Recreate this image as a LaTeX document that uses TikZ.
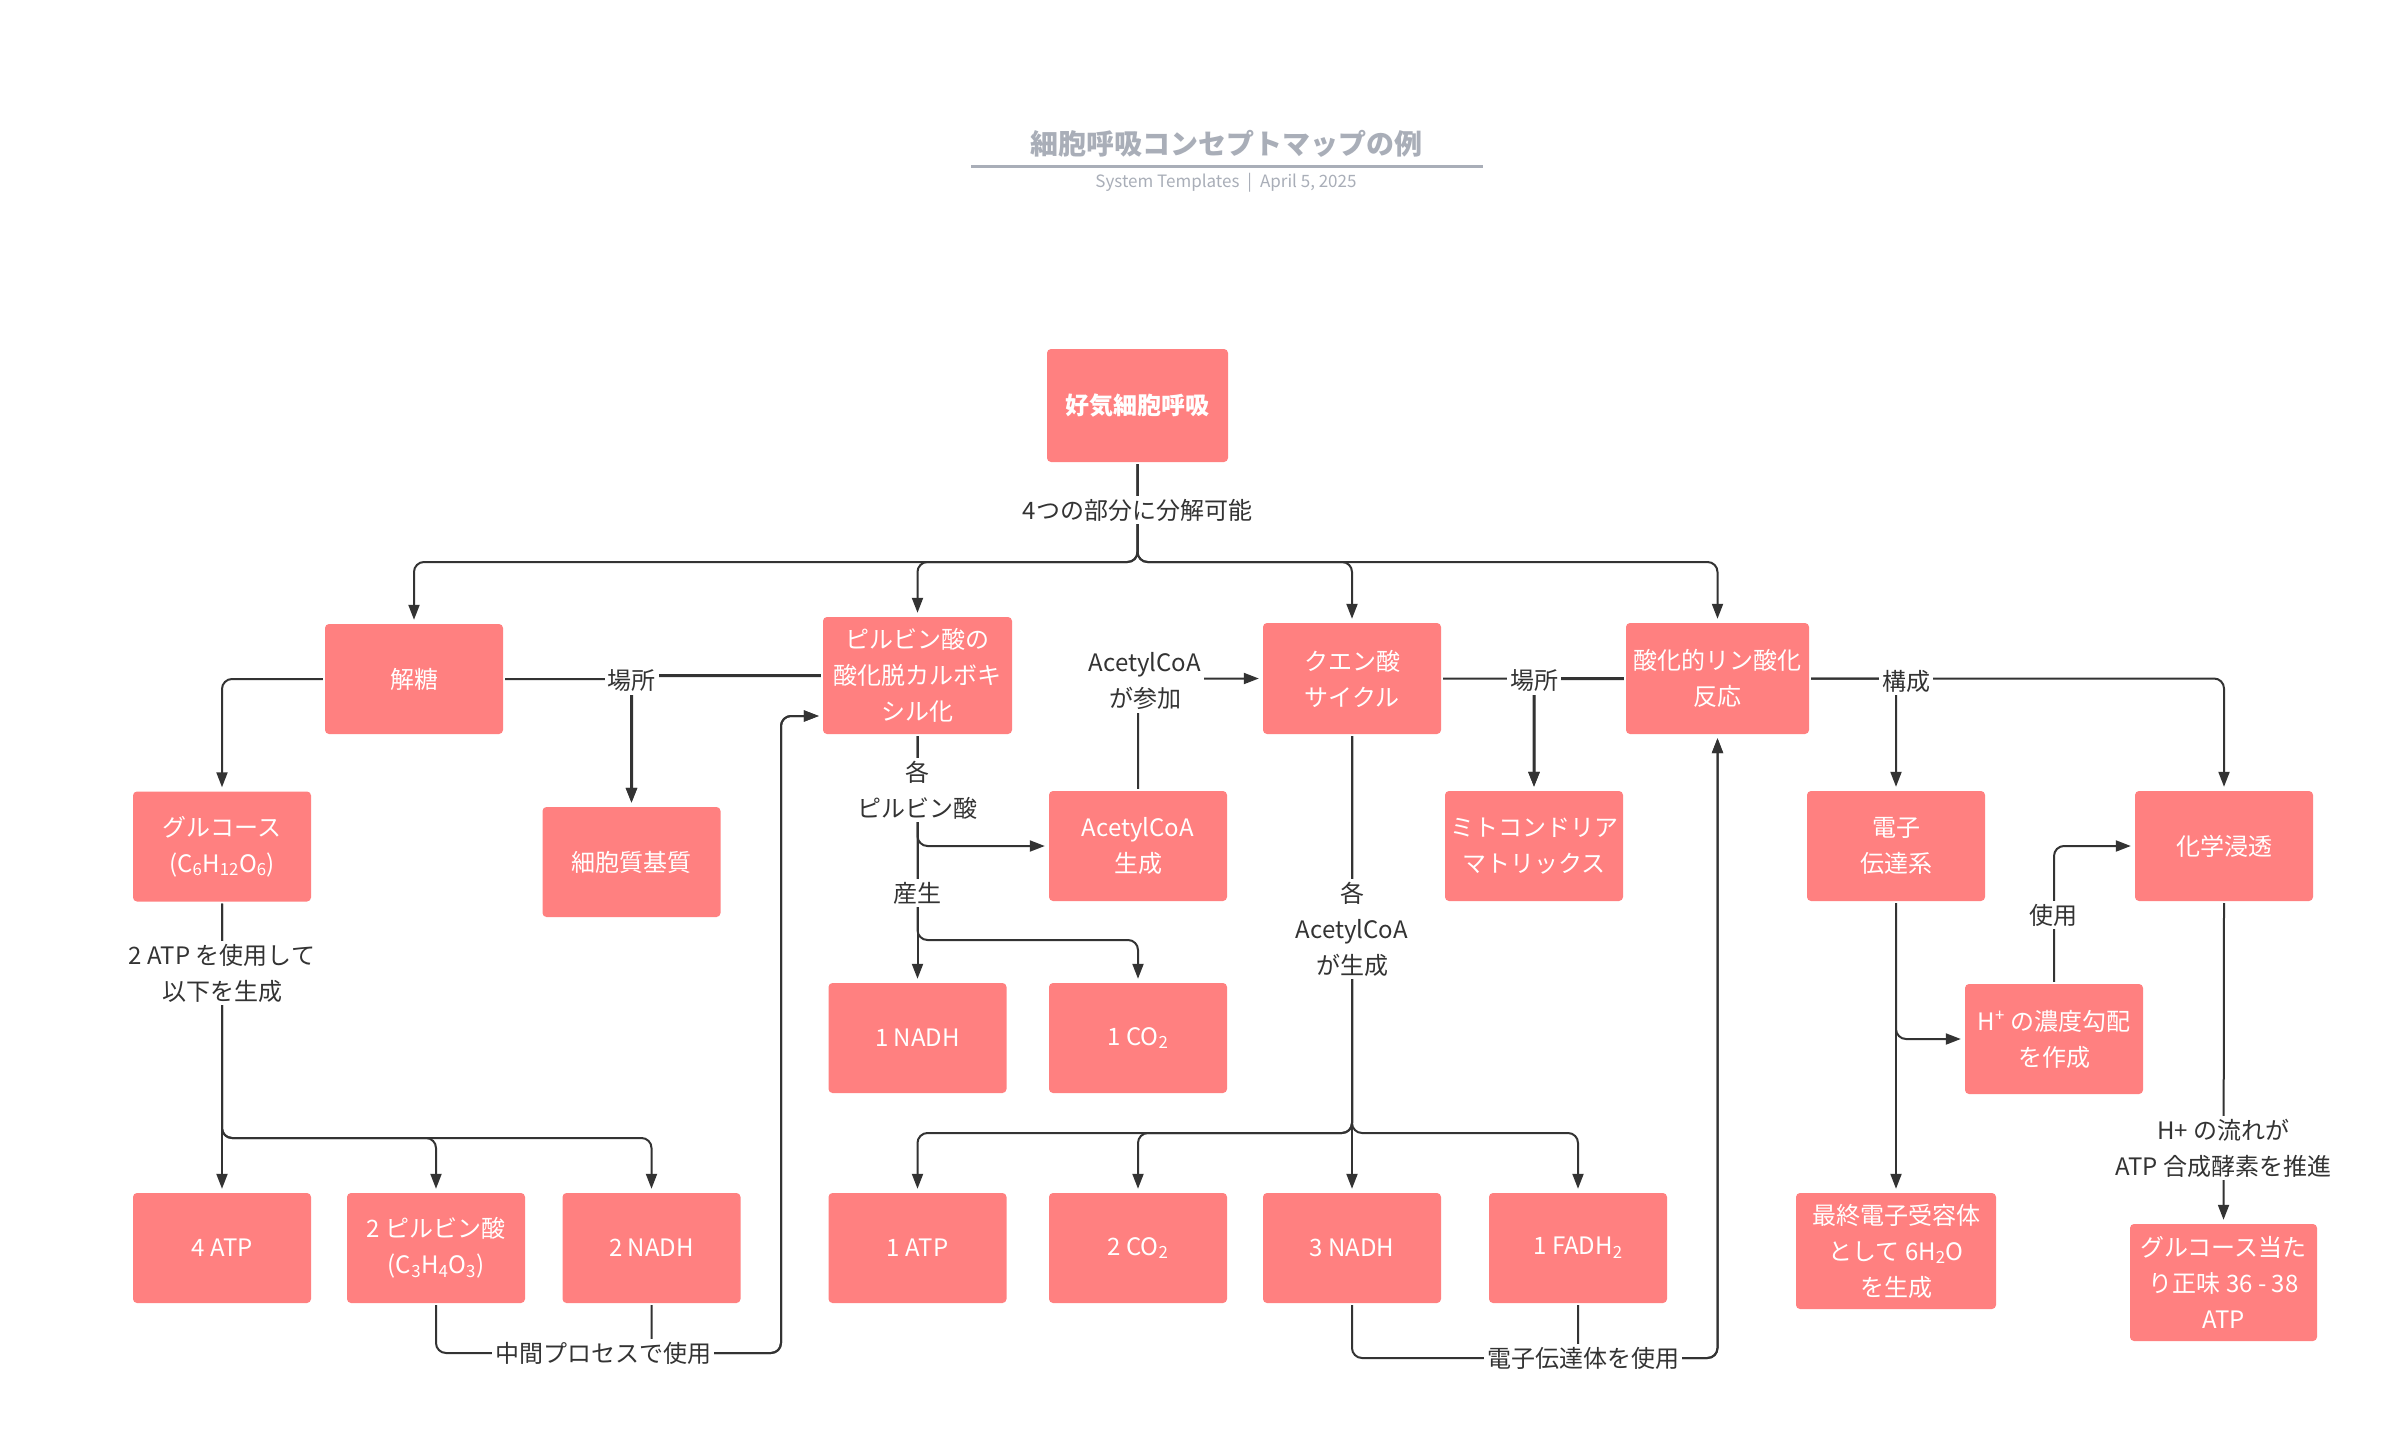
\documentclass[tikz,border=0pt]{standalone}
\usepackage{fontspec}
\setmainfont{Noto Sans CJK JP}
\usetikzlibrary{arrows.meta}
\definecolor{boxc}{HTML}{FF8080}
\definecolor{linec}{HTML}{333333}
\definecolor{titlec}{HTML}{A9AEB8}
\begin{document}
\begin{tikzpicture}[x=1pt,y=-1pt,
  box/.style={fill=boxc, rounded corners=4pt, minimum width=178pt, minimum height=110pt,
    text=white, font=\fontsize{24}{36}\selectfont, align=center, inner sep=0pt},
  conn/.style={draw=linec, line width=2pt, rounded corners=10pt, shorten <=2pt},
  arr/.style={conn, -{Triangle[width=11pt,length=15pt]}, shorten >=4pt},
  thick arr/.style={arr, line width=3pt},
  lbl/.style={fill=white, text=linec, font=\fontsize{24}{36}\selectfont, align=center, inner sep=3pt},
]
\fill[white] (0,0) rectangle (2399,1442);
\useasboundingbox (0,0) rectangle (2399,1442);

% title
\node[font=\fontsize{28}{34}\bfseries\selectfont, text=titlec] (title) at (1226,144) {細胞呼吸コンセプトマップの例};
\draw[titlec, line width=3pt] (971,167) -- (1483,167);
\node[font=\fontsize{17}{20}\selectfont, text=titlec] (sub) at (1226,183) {System Templates\hspace{8pt}|\hspace{8pt}April 5, 2025};

% boxes
\node[box, minimum width=181pt, minimum height=113pt, font=\fontsize{24}{36}\bfseries\selectfont] (root) at (1137.5,405.5) {好気細胞呼吸};
\node[box] (gly) at (414,679) {解糖};
\node[box, minimum width=189pt, minimum height=117pt] (pyr) at (917.5,675.5) {ピルビン酸の\\酸化脱カルボキ\\シル化};
\node[box, minimum height=111pt] (cit) at (1352,678.5) {クエン酸\\サイクル};
\node[box, minimum width=183pt, minimum height=111pt] (ox) at (1717.5,678.5) {酸化的リン酸化\\反応};

\node[box] (glu) at (222,846.5) {グルコース\\(C\textsubscript{6}H\textsubscript{12}O\textsubscript{6})};
\node[box] (cyto) at (631.5,862) {細胞質基質};
\node[box] (acg) at (1138,846) {AcetylCoA\\生成};
\node[box] (mito) at (1534,846) {ミトコンドリア\\マトリックス};
\node[box] (etc) at (1896,846) {電子\\伝達系};
\node[box] (chem) at (2224,846) {化学浸透};

\node[box] (nadh1) at (917.5,1038) {1 NADH};
\node[box] (co21) at (1138,1038) {1 CO\textsubscript{2}};
\node[box] (hgrad) at (2054,1039) {H\textsuperscript{+} の濃度勾配\\を作成};

\node[box] (atp4) at (222,1248) {4 ATP};
\node[box] (pyr2) at (436,1248) {2 ピルビン酸\\(C\textsubscript{3}H\textsubscript{4}O\textsubscript{3})};
\node[box] (nadh2) at (651.5,1248) {2 NADH};
\node[box] (atp1) at (917.5,1248) {1 ATP};
\node[box] (co22) at (1138,1248) {2 CO\textsubscript{2}};
\node[box] (nadh3) at (1352,1248) {3 NADH};
\node[box] (fadh) at (1578,1248) {1 FADH\textsubscript{2}};
\node[box, minimum width=200pt, minimum height=116pt] (final) at (1896,1251) {最終電子受容体\\として 6H\textsubscript{2}O\\を生成};
\node[box, minimum width=187pt, minimum height=117pt] (glcatp) at (2223.5,1282.5) {グルコース当た\\り正味 36 - 38\\ATP};

% junction coordinates
\coordinate (j0) at (1137.5,562);
\coordinate (j1) at (222,1138);
\coordinate (j3) at (917.5,940);
\coordinate (j4) at (1352,1133);
\coordinate (ret1) at (781,1353);
\coordinate (ret2) at (781,716);
\coordinate (ret3) at (1717.5,1358);

% connectors
\draw[arr] (root.south) -- (j0) -| (gly.north);
\draw[arr] (root.south) -- (j0) -| (pyr.north);
\draw[arr] (root.south) -- (j0) -| (cit.north);
\draw[arr] (root.south) -- (j0) -| (ox.north);

\draw[arr] (gly.west) -| (glu.north);
\draw[arr] (gly.east) -| (cyto.north);
\draw[thick arr] (pyr.west) -| (cyto.north);

\draw[arr] (glu.south) -- (atp4.north);
\draw[arr] (glu.south) -- (j1) -| (pyr2.north);
\draw[arr] (glu.south) -- (j1) -| (nadh2.north);

\draw[arr] (pyr2.south) |- (ret1) -- (ret2) -- (ret2 -| pyr.west);
\draw[arr] (nadh2.south) |- (ret1) -- (ret2) -- (ret2 -| pyr.west);

\draw[arr] (pyr.south) |- (acg.west);
\draw[arr] (pyr.south) -- (nadh1.north);
\draw[arr] (pyr.south) -- (j3) -| (co21.north);

\draw[arr] (acg.north) |- (cit.west);

\draw[arr] (cit.east) -| (mito.north);
\draw[thick arr] (ox.west) -| (mito.north);

\draw[arr] (cit.south) -- (j4) -| (atp1.north);
\draw[arr] (cit.south) -- (j4) -| (co22.north);
\draw[arr] (cit.south) -- (nadh3.north);
\draw[arr] (cit.south) -- (j4) -| (fadh.north);

\draw[arr] (nadh3.south) |- (ret3) -- (ox.south);
\draw[arr] (fadh.south) |- (ret3) -- (ox.south);

\draw[arr] (ox.east) -| (etc.north);
\draw[arr] (ox.east) -| (chem.north);

\draw[arr] (etc.south) -- (final.north);
\draw[arr] (etc.south) |- (hgrad.west);
\draw[arr] (hgrad.north) |- (chem.west);
\draw[arr] (chem.south) -- (glcatp.north);

% labels
\node[lbl] (l1) at (1137.5,510) {4つの部分に分解可能};
\node[lbl] (l2) at (631.5,681) {場所};
\node[lbl] (l3) at (222,973) {2 ATP を使用して\\以下を生成};
\node[lbl] (l4) at (603,1353) {中間プロセスで使用};
\node[lbl] (l5) at (917.5,790) {各\\ピルビン酸};
\node[lbl] (l6) at (917.5,893) {産生};
\node[lbl] (l7) at (1145,681) {AcetylCoA\\が参加};
\node[lbl] (l8) at (1534,681) {場所};
\node[lbl] (l9) at (1352,929) {各\\AcetylCoA\\が生成};
\node[lbl] (l10) at (1583,1358) {電子伝達体を使用};
\node[lbl] (l11) at (1906,681) {構成};
\node[lbl] (l12) at (2053,915) {使用};
\node[lbl] (l13) at (2223.5,1148) {H+ の流れが\\ATP 合成酵素を推進};
\end{tikzpicture}
\end{document}
